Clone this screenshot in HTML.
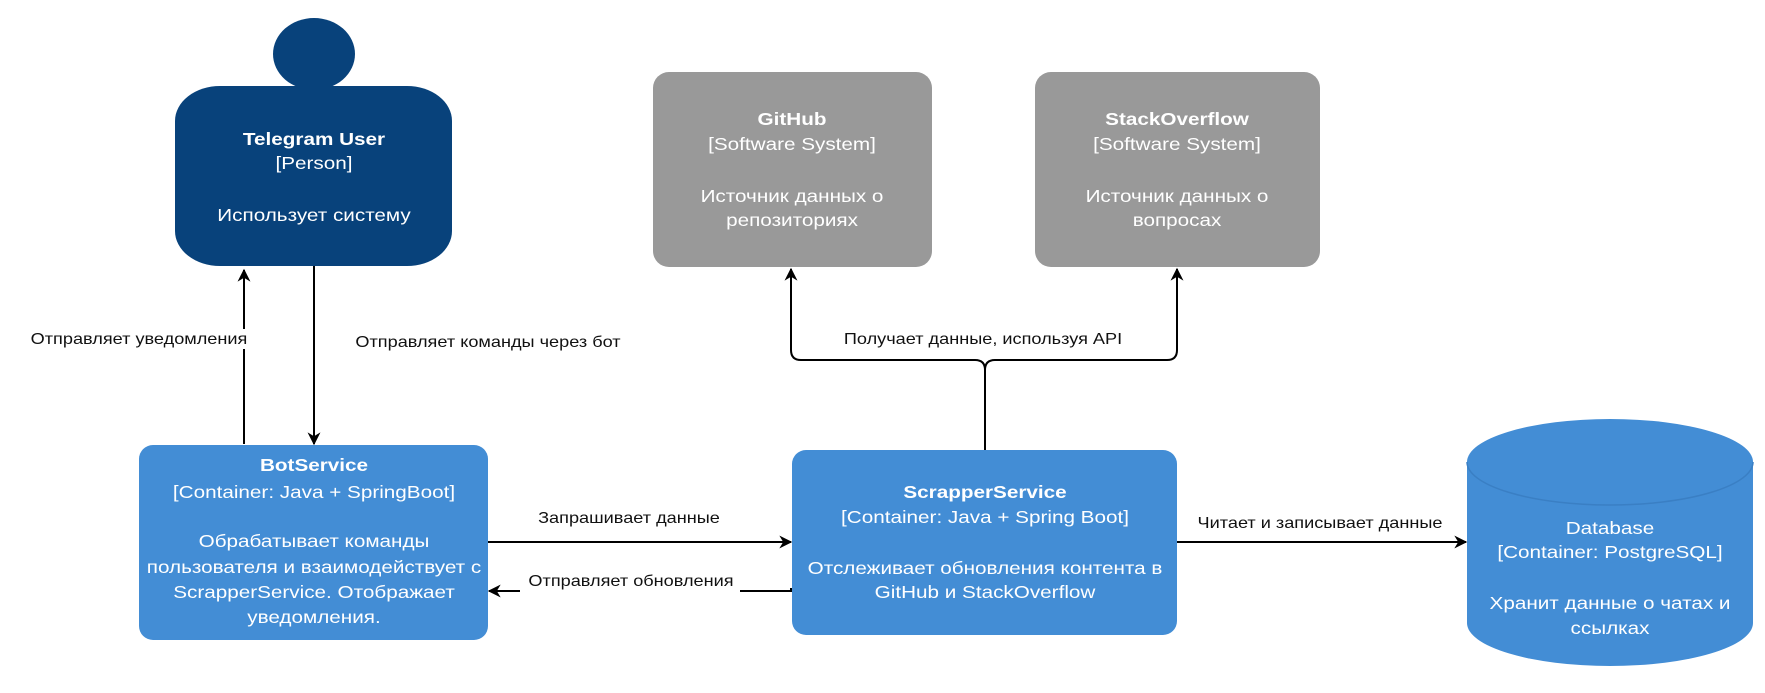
<!DOCTYPE html>
<html><head><meta charset="utf-8"><style>
html,body{margin:0;padding:0;background:#fff;}
svg{display:block;}
text{font-family:"Liberation Sans",Arial,sans-serif;}
.w{fill:#fff;font-size:18px;text-anchor:middle;}
.b{font-weight:bold;}
.l{fill:#111;font-size:15.5px;text-anchor:middle;}
</style></head><body>
<svg width="1765" height="693" viewBox="0 0 1765 693" xmlns="http://www.w3.org/2000/svg">
<defs>
<marker id="a" viewBox="0 0 10 10" refX="9" refY="5" markerWidth="13" markerHeight="13" markerUnits="userSpaceOnUse" orient="auto">
<path d="M0,0 L10,5 L0,10 L3,5 Z" fill="#000"/>
</marker>
</defs>

<!-- Person -->
<ellipse cx="314" cy="54" rx="41" ry="36" fill="#08427B"/>
<rect x="175" y="86" width="277" height="180" rx="45" ry="35" fill="#08427B"/>
<text class="w b" transform="translate(314,145) scale(1.15,1)">Telegram User</text>
<text class="w" transform="translate(314,169) scale(1.15,1)">[Person]</text>
<text class="w" transform="translate(314,221) scale(1.15,1)">Использует систему</text>

<!-- GitHub -->
<rect x="653" y="72" width="279" height="195" rx="16" fill="#999999"/>
<text class="w b" transform="translate(792,125) scale(1.15,1)">GitHub</text>
<text class="w" transform="translate(792,150) scale(1.15,1)">[Software System]</text>
<text class="w" transform="translate(792,202) scale(1.15,1)">Источник данных о</text>
<text class="w" transform="translate(792,226) scale(1.15,1)">репозиториях</text>

<!-- StackOverflow -->
<rect x="1035" y="72" width="285" height="195" rx="16" fill="#999999"/>
<text class="w b" transform="translate(1177,125) scale(1.15,1)">StackOverflow</text>
<text class="w" transform="translate(1177,150) scale(1.15,1)">[Software System]</text>
<text class="w" transform="translate(1177,202) scale(1.15,1)">Источник данных о</text>
<text class="w" transform="translate(1177,226) scale(1.15,1)">вопросах</text>

<!-- BotService -->
<rect x="139" y="445" width="349" height="195" rx="14" fill="#438DD5"/>
<text class="w b" transform="translate(314,471) scale(1.15,1)">BotService</text>
<text class="w" transform="translate(314,498) scale(1.15,1)">[Container: Java + SpringBoot]</text>
<text class="w" transform="translate(314,547) scale(1.15,1)">Обрабатывает команды</text>
<text class="w" transform="translate(314,573) scale(1.15,1)">пользователя и взаимодействует с</text>
<text class="w" transform="translate(314,598) scale(1.15,1)">ScrapperService. Отображает</text>
<text class="w" transform="translate(314,623) scale(1.15,1)">уведомления.</text>

<!-- ScrapperService -->
<rect x="792" y="450" width="385" height="185" rx="14" fill="#438DD5"/>
<text class="w b" transform="translate(985,498) scale(1.15,1)">ScrapperService</text>
<text class="w" transform="translate(985,523) scale(1.15,1)">[Container: Java + Spring Boot]</text>
<text class="w" transform="translate(985,574) scale(1.15,1)">Отслеживает обновления контента в</text>
<text class="w" transform="translate(985,598) scale(1.15,1)">GitHub и StackOverflow</text>

<!-- Database -->
<path d="M1467,462 A143,43 0 0 1 1753,462 L1753,623 A143,43 0 0 1 1467,623 Z" fill="#438DD5"/>
<path d="M1467,462 A143,43 0 0 0 1753,462" fill="none" stroke="#3a7fc4" stroke-width="1.5"/>
<text class="w" transform="translate(1610,534) scale(1.15,1)">Database</text>
<text class="w" transform="translate(1610,558) scale(1.15,1)">[Container: PostgreSQL]</text>
<text class="w" transform="translate(1610,609) scale(1.15,1)">Хранит данные о чатах и</text>
<text class="w" transform="translate(1610,634) scale(1.15,1)">ссылках</text>

<!-- Connectors -->
<g stroke="#000" stroke-width="2" fill="none">
<line x1="244" y1="444" x2="244" y2="270" marker-end="url(#a)"/>
<line x1="314" y1="266" x2="314" y2="444" marker-end="url(#a)"/>
<line x1="488" y1="542" x2="791" y2="542" marker-end="url(#a)"/>
<path d="M791,588 L791,591 L489,591" marker-end="url(#a)"/>
<line x1="1177" y1="542" x2="1466" y2="542" marker-end="url(#a)"/>
<path d="M985,450 L985,370 Q985,360 975,360 L801,360 Q791,360 791,350 L791,269" marker-end="url(#a)"/>
<path d="M985,370 Q985,360 995,360 L1167,360 Q1177,360 1177,350 L1177,269" marker-end="url(#a)"/>
</g>

<!-- Labels -->
<rect x="25" y="329" width="229" height="20" fill="#fff"/>
<text class="l" transform="translate(139,344) scale(1.17,1)">Отправляет уведомления</text>
<text class="l" transform="translate(488,347) scale(1.17,1)">Отправляет команды через бот</text>
<text class="l" transform="translate(629,523) scale(1.17,1)">Запрашивает данные</text>
<rect x="520" y="572" width="220" height="20" fill="#fff"/>
<text class="l" transform="translate(631,586) scale(1.17,1)">Отправляет обновления</text>
<text class="l" transform="translate(1320,528) scale(1.17,1)">Читает и записывает данные</text>
<rect x="835" y="329" width="296" height="20" fill="#fff"/>
<text class="l" transform="translate(983,344) scale(1.17,1)">Получает данные, используя API</text>
</svg>
</body></html>
